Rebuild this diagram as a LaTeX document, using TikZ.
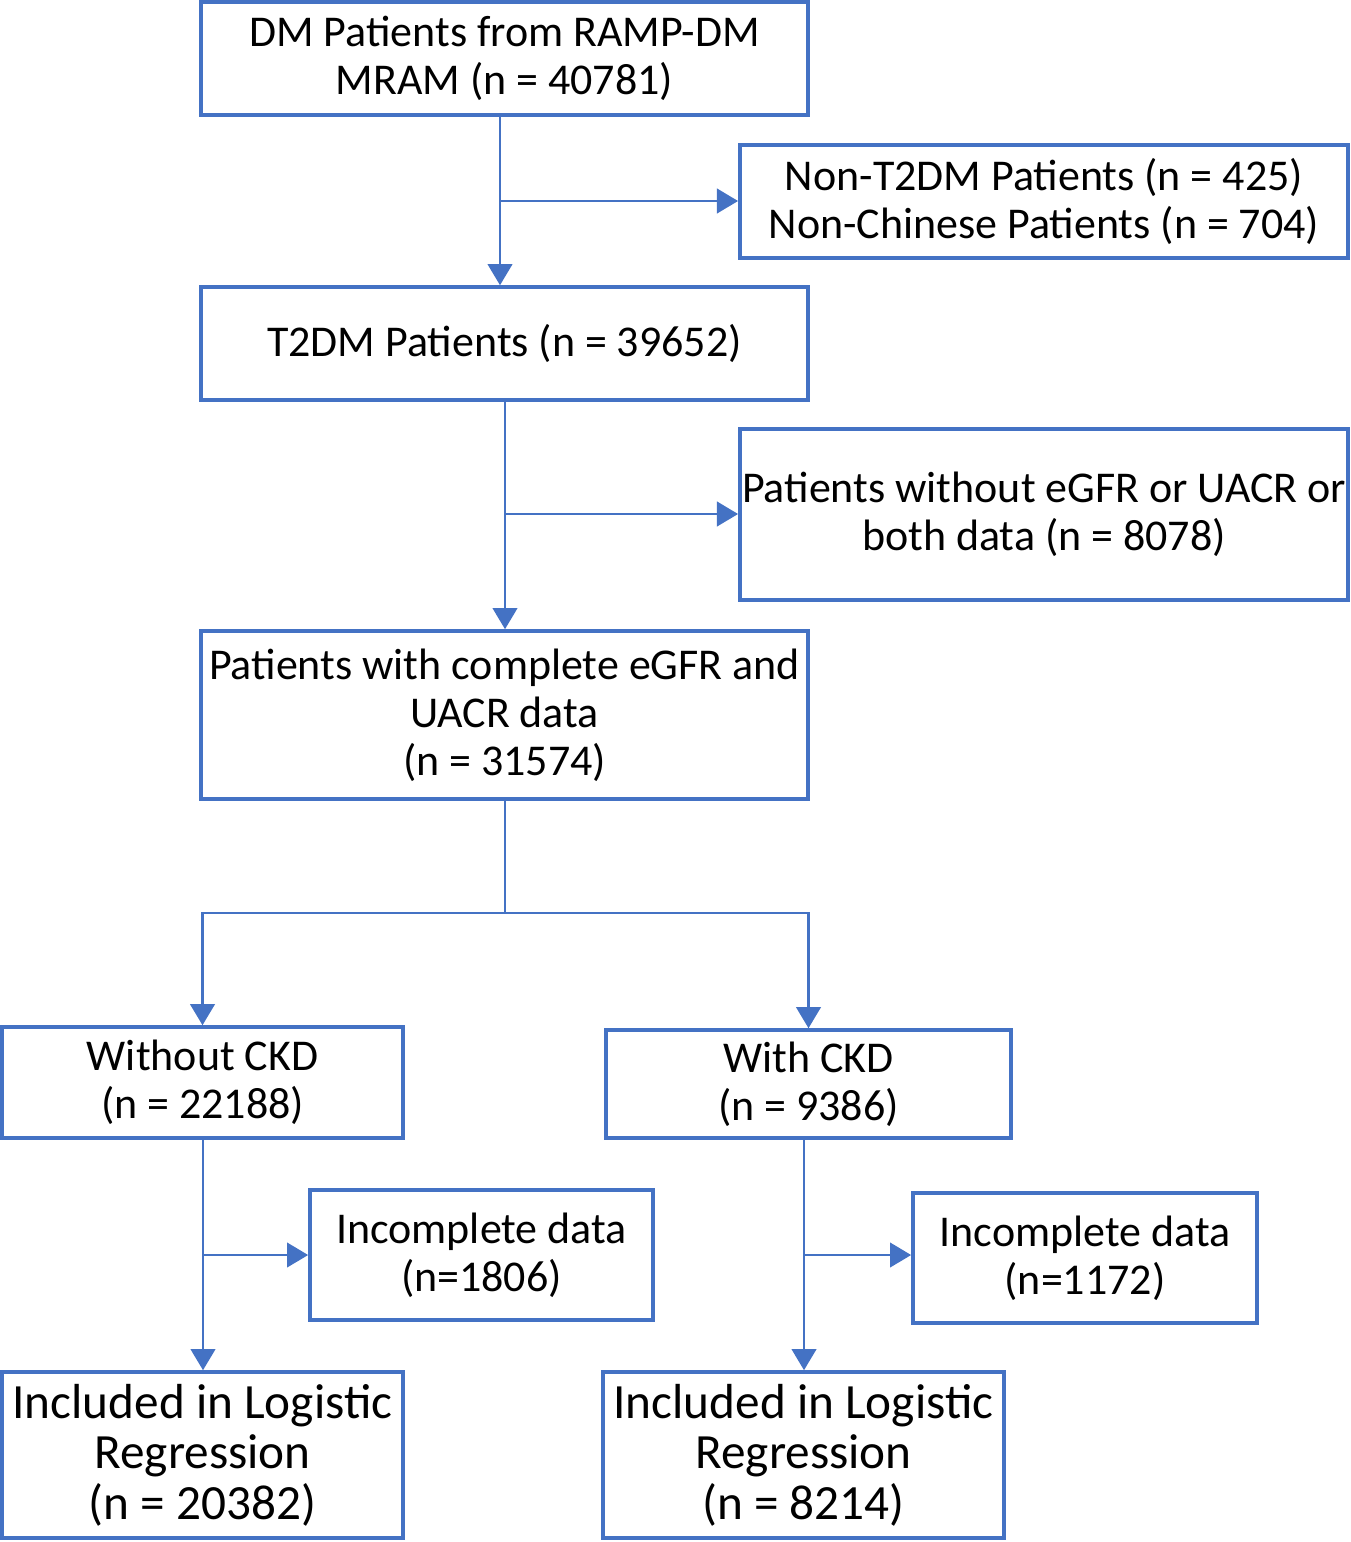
\documentclass[tikz,border=0pt]{standalone}
\usepackage{fontspec}
\setmainfont{Carlito}
\usetikzlibrary{arrows.meta}
\definecolor{boxblue}{HTML}{4472C4}
\tikzset{
  box/.style={draw=boxblue, line width=1pt, align=center, inner sep=0pt, font=\fontsize{12.5}{13.6}\selectfont},
  bigbox/.style={box, font=\fontsize{14}{14.4}\selectfont},
  link/.style={draw=boxblue, line width=0.6pt},
  arr/.style={link, -{Triangle[length=6pt,width=7pt]}}
}
\begin{document}
\begin{tikzpicture}[x=0.01cm,y=-0.01cm]
\useasboundingbox (0,0) rectangle (1350,1542);
% main column
\node[box, minimum width=6.07cm, minimum height=1.13cm] (dm) at (504.5,58.5) {DM Patients from RAMP-DM\\MRAM (n = 40781)};
\node[box, minimum width=6.08cm, minimum height=1.13cm] (excl1) at (1044,201.5) {Non-T2DM Patients (n = 425)\\Non-Chinese Patients (n = 704)};
\node[box, minimum width=6.07cm, minimum height=1.13cm] (t2dm) at (504.5,343.5) {T2DM Patients (n = 39652)};
\node[box, minimum width=6.08cm, minimum height=1.71cm] (excl2) at (1044,514.5) {Patients without eGFR or UACR or\\both data (n = 8078)};
\node[box, minimum width=6.07cm, minimum height=1.68cm] (comp) at (504.5,715) {Patients with complete eGFR and\\UACR data\\(n = 31574)};
% split
\node[box, minimum width=4.01cm, minimum height=1.11cm] (nockd) at (202.5,1082.5) {Without CKD\\(n = 22188)};
\node[box, minimum width=4.05cm, minimum height=1.08cm] (ckd) at (808.5,1084) {With CKD\\(n = 9386)};
\node[box, minimum width=3.43cm, minimum height=1.30cm] (inc1) at (481.5,1255) {Incomplete data\\(n=1806)};
\node[box, minimum width=3.44cm, minimum height=1.30cm] (inc2) at (1085,1258) {Incomplete data\\(n=1172)};
\node[bigbox, minimum width=4.01cm, minimum height=1.66cm] (reg1) at (202.5,1455) {Included in Logistic\\Regression\\(n = 20382)};
\node[bigbox, minimum width=4.01cm, minimum height=1.66cm] (reg2) at (803.5,1455) {Included in Logistic\\Regression\\(n = 8214)};

% connectors
\coordinate (b1) at (500,201);
\coordinate (b2) at (505,514);
\coordinate (s) at (505,913);
\coordinate (b3) at (203,1255);
\coordinate (b4) at (804,1255);
\draw[arr] (dm.south -| b1) -- (t2dm.north -| b1);
\draw[arr] (b1) -- (excl1.west |- b1);
\draw[arr] (t2dm.south -| b2) -- (comp.north -| b2);
\draw[arr] (b2) -- (excl2.west |- b2);
\draw[link] (comp.south -| s) -- (s);
\draw[arr] (s) -| (nockd.north);
\draw[arr] (s) -| (ckd.north);
\draw[arr] (nockd.south -| b3) -- (reg1.north -| b3);
\draw[arr] (b3) -- (inc1.west |- b3);
\draw[arr] (ckd.south -| b4) -- (reg2.north -| b4);
\draw[arr] (b4) -- (inc2.west |- b4);
\end{tikzpicture}
\end{document}
